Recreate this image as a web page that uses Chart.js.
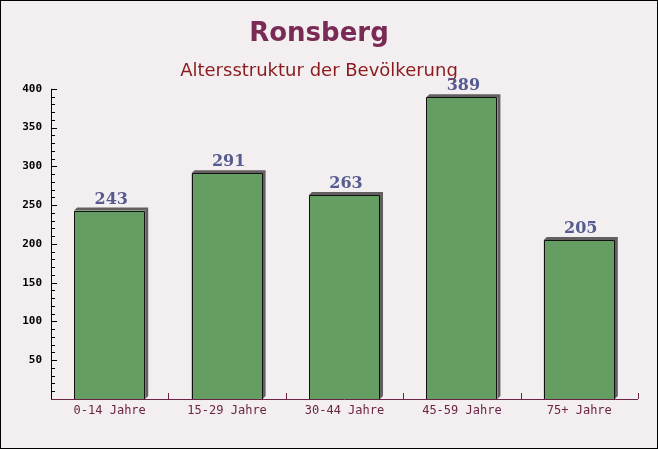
<!DOCTYPE html>
<html>
<head>
<meta charset="utf-8">
<script src="https://cdn.jsdelivr.net/npm/chart.js@4/dist/chart.umd.min.js"></script>
<style>
  html, body { margin: 0; padding: 0; background: #f3eff0; }
  #wrap { position: relative; width: 658px; height: 449px; }
</style>
</head>
<body>
<div id="wrap"><canvas id="bar-chart" width="658" height="449"></canvas></div>
<script>
var categories = ["0-14 Jahre", "15-29 Jahre", "30-44 Jahre", "45-59 Jahre", "75+ Jahre"];
var population = [243, 291, 263, 389, 205];
var yTicks = [50, 100, 150, 200, 250, 300, 350, 400];

// grey 3D shadow behind each bar, offset up/right, plus black outline
var barShadow = {
  id: "barShadow",
  beforeDatasetsDraw: function (chart) {
    var ctx = chart.ctx;
    var d = 3;
    ctx.save();
    ctx.fillStyle = "#646061";
    chart.getDatasetMeta(0).data.forEach(function (bar) {
      var l = bar.x - bar.width / 2, r = bar.x + bar.width / 2;
      ctx.beginPath();
      ctx.moveTo(l, bar.y);
      ctx.lineTo(l + d, bar.y - d);
      ctx.lineTo(r + d, bar.y - d);
      ctx.lineTo(r + d, bar.base - d);
      ctx.lineTo(r, bar.base);
      ctx.lineTo(r, bar.y);
      ctx.closePath();
      ctx.fill();
    });
    ctx.restore();
  },
  afterDatasetsDraw: function (chart) {
    var ctx = chart.ctx;
    ctx.save();
    ctx.strokeStyle = "#111";
    ctx.lineWidth = 1;
    chart.getDatasetMeta(0).data.forEach(function (bar) {
      var l = Math.round(bar.x - bar.width / 2) + 0.5;
      var r = Math.round(bar.x + bar.width / 2) - 0.5;
      var t = Math.round(bar.y) + 0.5;
      var b = Math.round(bar.base);
      ctx.beginPath();
      ctx.moveTo(l, b);
      ctx.lineTo(l, t);
      ctx.lineTo(r, t);
      ctx.lineTo(r, b);
      ctx.stroke();
    });

    ctx.fillStyle = "#555b8e";
    ctx.font = "bold 16px 'DejaVu Serif'";
    ctx.textAlign = "center";
    ctx.textBaseline = "bottom";
    chart.getDatasetMeta(0).data.forEach(function (bar, i) {
      ctx.fillText(population[i], bar.x + 1.5, bar.y - 3);
    });
    ctx.restore();
  }
};

// axis ticks pointing inward + frame
var axisTicks = {
  id: "axisTicks",
  afterDraw: function (chart) {
    var ctx = chart.ctx, a = chart.chartArea;
    var y = chart.scales.y;
    ctx.save();
    ctx.lineWidth = 1;
    ctx.strokeStyle = "#000";
    ctx.beginPath();
    ctx.moveTo(a.left + 0.5, a.top);
    ctx.lineTo(a.left + 0.5, a.bottom);
    for (var v = 10; v <= 400; v += 10) {
      var py = Math.round(y.getPixelForValue(v)) + 0.5;
      ctx.moveTo(a.left, py);
      ctx.lineTo(a.left + (v % 50 === 0 ? 6 : 4), py);
    }
    ctx.stroke();

    ctx.strokeStyle = "#6b2446";
    ctx.beginPath();
    ctx.moveTo(a.left, a.bottom + 0.5);
    ctx.lineTo(a.right, a.bottom + 0.5);
    var step = (a.right - a.left) / categories.length;
    for (var i = 1; i <= categories.length; i++) {
      var px = Math.round(a.left + i * step) + 0.5;
      ctx.moveTo(px, a.bottom);
      ctx.lineTo(px, a.bottom - 6);
    }
    ctx.stroke();

    ctx.strokeStyle = "#000";
    ctx.strokeRect(0.5, 0.5, chart.width - 1, chart.height - 1);
    ctx.restore();
  }
};

var config = {
  type: "bar",
  data: {
    labels: categories,
    datasets: [
      {
        data: population,
        backgroundColor: "#659e63",
        borderWidth: 0,
        categoryPercentage: 1,
        barPercentage: 0.605,
      },
    ],
  },
  options: {
    responsive: false,
    animation: false,
    layout: { padding: { left: 0, right: 20, top: 0, bottom: 0 } },
    plugins: {
      legend: { display: false },
      tooltip: { enabled: false },
      title: {
        display: true,
        text: "Ronsberg",
        color: "#7a2b55",
        font: { family: "'DejaVu Sans'", size: 26, weight: "bold", lineHeight: 1.2 },
        padding: { top: 19, bottom: 5 },
      },
      subtitle: {
        display: true,
        text: "Altersstruktur der Bevölkerung",
        color: "#8a1a1e",
        font: { family: "'DejaVu Sans'", size: 18, lineHeight: 1.2 },
        padding: { top: 5, bottom: 7 },
      },
    },
    scales: {
      x: {
        grid: { display: false, tickLength: 0 },
        border: { display: false },
        ticks: {
          color: "#6b2446",
          font: { family: "'DejaVu Sans Mono'", size: 12 },
          padding: 5,
          maxRotation: 0,
        },
        afterFit: function (scale) { scale.height = 50; },
      },
      y: {
        min: 0,
        max: 400,
        grid: { display: false, tickLength: 0 },
        border: { display: false },
        afterBuildTicks: function (scale) {
          scale.ticks = yTicks.map(function (v) { return { value: v }; });
        },
        ticks: {
          color: "#000",
          font: { family: "'DejaVu Sans Mono'", size: 11, weight: "bold" },
          padding: 9,
        },
        afterFit: function (scale) { scale.width = 51; },
      },
    },
  },
  plugins: [barShadow, axisTicks],
};

var ctx = document.getElementById("bar-chart").getContext("2d");
window.myBar = new Chart(ctx, config);
</script>
</body>
</html>
